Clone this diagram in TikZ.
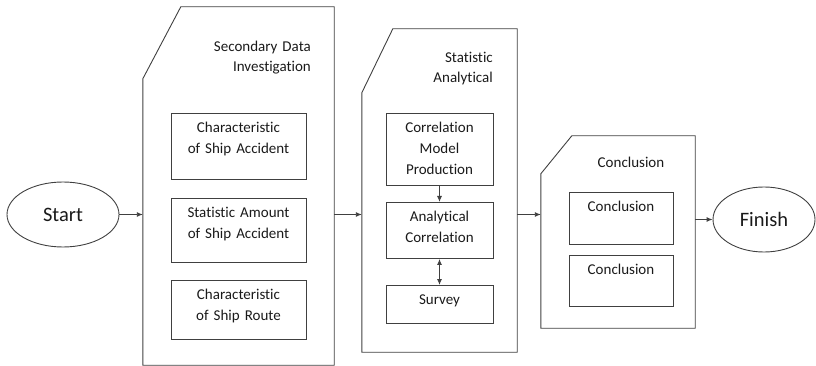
\documentclass[tikz,border=0pt]{standalone}
\usepackage{fontspec}
\setmainfont{Carlito}[Ligatures=NoCommon]
\usetikzlibrary{arrows.meta,shapes.geometric}
\definecolor{lc}{HTML}{404040}
\definecolor{tc}{HTML}{1A1A1A}
\begin{document}
\begin{tikzpicture}[x=1pt,y=-1pt,
  ln/.style={draw=lc, line width=0.9pt},
  inbox/.style n args={2}{ln, rectangle, inner sep=0pt, align=center, text=tc,
     font=\fontsize{15}{21}\selectfont, text width=#1pt,
     text height=19.5pt, text depth={#2pt-19.5pt}},
  panel/.style n args={2}{rectangle, inner sep=0pt, minimum width=#1pt, minimum height=#2pt},
  oval/.style={ln, ellipse, inner sep=0pt, text=tc, font=\fontsize{20.5}{24}\selectfont},
  hdr/.style={inner sep=0pt, text=tc, font=\fontsize{15}{20}\selectfont, text width=130pt},
  arr/.style={ln, -{Latex[length=6pt,width=5pt]}},
  darr/.style={ln, {Latex[length=6pt,width=5pt]}-{Latex[length=6pt,width=5pt]}}
]
\useasboundingbox (0,0) rectangle (816,366);

% terminals
\node[oval, minimum width=112pt, minimum height=65pt] (start) at (63,214.5) {Start};
\node[oval, minimum width=102pt, minimum height=65pt] (finish) at (764,219.5) {Finish};

% panels (chamfered outlines)
\node[panel={191}{358}] (p1) at (238.5,186) {};
\draw[ln] ([yshift=-72pt]p1.north west) -- ([xshift=38pt]p1.north west) -- (p1.north east)
  -- (p1.south east) -- (p1.south west) -- cycle;
\node[panel={155}{323}] (p2) at (439.5,190.5) {};
\draw[ln] ([yshift=-64pt]p2.north west) -- ([xshift=31pt]p2.north west) -- (p2.north east)
  -- (p2.south east) -- (p2.south west) -- cycle;
\node[panel={154}{192}] (p3) at (618,232) {};
\draw[ln] ([yshift=-38pt]p3.north west) -- ([xshift=31pt]p3.north west) -- (p3.north east)
  -- (p3.south east) -- (p3.south west) -- cycle;

% headers
\node[hdr, align=right, anchor=base east] (h1) at (311,52) {Secondary Data\\Investigation};
\node[hdr, align=right, anchor=base east] (h2) at (493,63) {Statistic\\Analytical};
\node[hdr, align=center, anchor=base] (h3) at (631,168) {Conclusion};

% panel 1 boxes
\node[inbox={135}{66}, anchor=north] (b1) at (238.5,113) {Characteristic\\of Ship Accident};
\node[inbox={135}{64}, anchor=north] (b2) at (238.5,198) {Statistic Amount\\of Ship Accident};
\node[inbox={135}{59}, anchor=north] (b3) at (238.5,280) {Characteristic\\of Ship Route};

% panel 2 boxes
\node[inbox={107}{72}, anchor=north] (c1) at (439.5,113) {Correlation\\Model\\Production};
\node[inbox={107}{56}, anchor=north] (c2) at (439.5,202) {Analytical\\Correlation};
\node[inbox={107}{38}, anchor=north] (c3) at (439.5,285) {Survey};

% panel 3 boxes
\node[inbox={104}{52}, anchor=north] (d1) at (621,192) {Conclusion};
\node[inbox={104}{51}, anchor=north] (d2) at (621,255) {Conclusion};

% connectors
\draw[arr] (start.east) -- (start.east -| p1.west);
\draw[arr] (p1.east |- start.east) -- (p2.west |- start.east);
\draw[arr] (p2.east |- start.east) -- (p3.west |- start.east);
\draw[arr] (p3.east |- finish.west) -- (finish.west);
\draw[arr] (c1.south) -- (c2.north);
\draw[darr] (c2.south) -- (c3.north);
\end{tikzpicture}
\end{document}
